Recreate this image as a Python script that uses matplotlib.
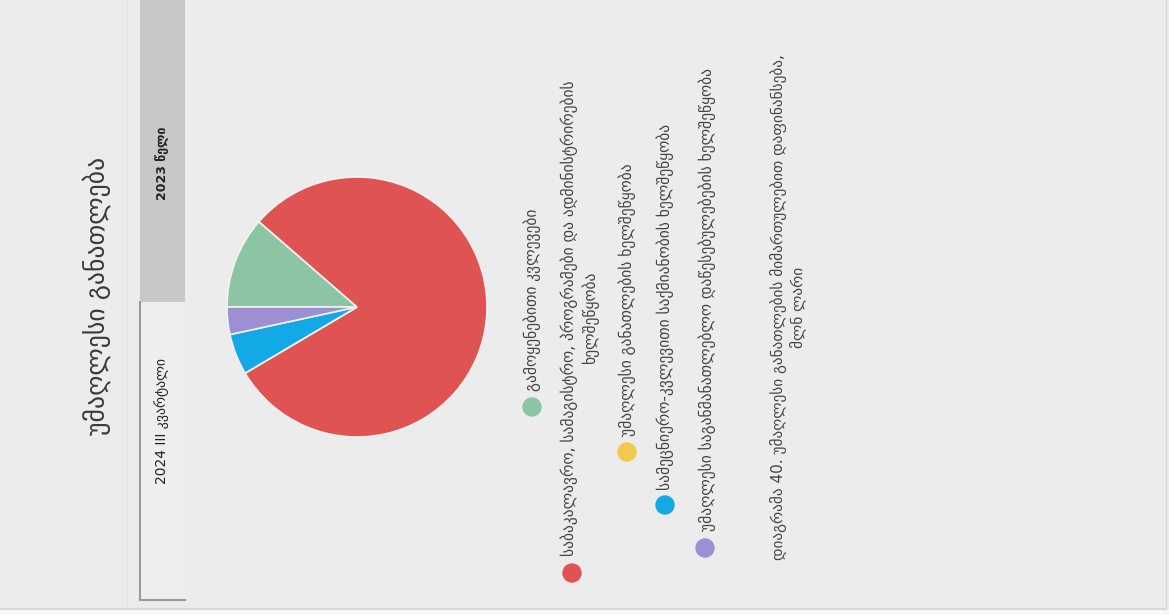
import matplotlib
matplotlib.use("Agg")
import matplotlib.pyplot as plt
from matplotlib.patches import Rectangle, Circle

W, H = 1169, 615

title = "უმაღლესი განათლება"
tab_labels = ["2023 წელი", "2024 III კვარტალი"]
categories = [
    "გამოყენებითი კვლევები",
    "საბაკალავრო, სამაგისტრო, პროგრამები და ადმინისტრირების\nხელშეწყობა",
    "უმაღლესი განათლების ხელშეწყობა",
    "სამეცნიერო-კვლევითი საქმიანობის ხელშეწყობა",
    "უმაღლესი საგანმანათლებლო დაწესებულებების ხელშეწყობა",
]
values = [11.4, 80.1, 0.0, 5.1, 3.4]
colors = ["#8cc5a3", "#e05353", "#f2c94c", "#12a9e6", "#9d8fd3"]
footer = "დიაგრამა 40. უმაღლესი განათლების მიმართულებით დაფინანსება,\nმლნ ლარი"

plt.rcParams['font.family'] = ['DejaVu Sans']

fig = plt.figure(figsize=(W / 100, H / 100), dpi=100)
fig.patch.set_facecolor("#ececec")
ax = fig.add_axes([0, 0, 1, 1])
ax.set_xlim(0, W)
ax.set_ylim(H, 0)
ax.axis("off")

# bottom / right frame
ax.add_patch(Rectangle((0, 609), W, 6, color="#f7f7f7", zorder=1))
ax.plot([0, W - 3], [609, 609], color="#d8d8d8", lw=1.5, zorder=2)
ax.plot([W - 3, W - 3], [0, 609], color="#d8d8d8", lw=1.0, zorder=2)
ax.plot([127, 127], [0, 609], color="#e2e2e2", lw=1.0, zorder=2)

# tabs
ax.add_patch(Rectangle((140, 0), 45, 302, facecolor="#c8c8c8", edgecolor="none", zorder=2))
ax.add_patch(Rectangle((140, 302), 45, 298, facecolor="#eeeeee", edgecolor="none", zorder=2))
ax.plot([140, 140], [302, 600], color="#9a9a9a", lw=1.5, zorder=3)
ax.plot([140, 185], [600, 600], color="#9a9a9a", lw=1.5, zorder=3)

ax.text(97, 296, title, rotation=90, ha="center", va="center",
        fontsize=18.5, color="#3a3a3a", zorder=4)
ax.text(162, 163, tab_labels[0], rotation=90, ha="center", va="center",
        fontsize=9, fontweight="bold", color="#222222", zorder=4)
ax.text(162, 421, tab_labels[1], rotation=90, ha="center", va="center",
        fontsize=10, color="#222222", zorder=4)

# pie
cx, cy, r = 357, 307, 130
pax = fig.add_axes([(cx - r) / W, (H - cy - r) / H, 2 * r / W, 2 * r / H])
pax.pie(values, colors=colors, startangle=180, counterclock=False,
        radius=1.0, wedgeprops=dict(edgecolor="#f2f2f2", linewidth=1.2))
pax.set_xlim(-1.0, 1.0)
pax.set_ylim(-1.0, 1.0)
pax.set_aspect("equal")
pax.axis("off")

# legend
markers = [(532, 407), (572, 573), (627, 452), (665, 505), (705, 548)]
text_x = [532, 580, 627, 665, 707]
text_y = [391, 556, 436, 490, 531]
for (mx, my), tx, ty, lab, c in zip(markers, text_x, text_y, categories, colors):
    ax.add_patch(Circle((mx, my), 9, color=c, zorder=4))
    ax.text(tx, ty, lab, rotation=90, ha="center", va="bottom",
            multialignment="center", fontsize=11.2, color="#444444",
            linespacing=1.25, zorder=4)

ax.text(788, 560, footer, rotation=90, ha="center", va="bottom",
        multialignment="center", fontsize=11, color="#444444",
        linespacing=1.2, zorder=4)

fig.savefig("out.png", dpi=100, facecolor=fig.get_facecolor())
